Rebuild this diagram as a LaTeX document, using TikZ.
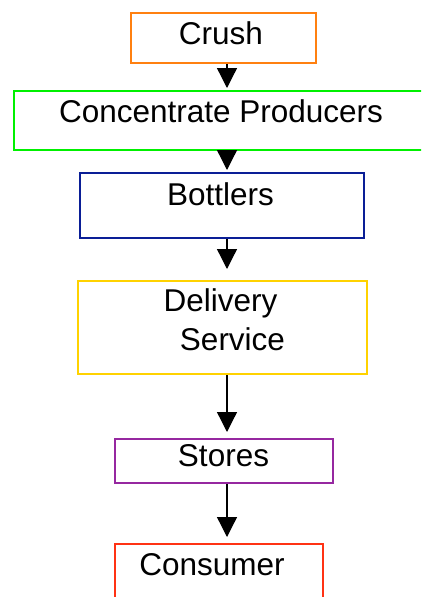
\documentclass[tikz,border=0pt]{standalone}
\usepackage{fontspec}
\setmainfont{Liberation Sans}
\usetikzlibrary{arrows.meta}
\definecolor{cOrange}{RGB}{255,128,16}
\definecolor{cGreen}{RGB}{0,240,0}
\definecolor{cBlue}{RGB}{10,30,150}
\definecolor{cYellow}{RGB}{255,210,0}
\definecolor{cPurple}{RGB}{150,40,160}
\definecolor{cRed}{RGB}{255,50,20}
\begin{document}
\begin{tikzpicture}[x=1pt,y=-1pt,
  boxed/.style={rectangle,line width=2pt,inner sep=0pt},
  lbl/.style={anchor=base,inner sep=0pt,font=\fontsize{31.5}{36}\selectfont},
  flow/.style={line width=1.3pt,-{Triangle[width=20pt,length=20pt]}}]
\useasboundingbox (0,0) rectangle (421,597);
\clip (0,0) rectangle (421,597);
\fill[white] (0,0) rectangle (421,597);
% boxes
\node[boxed,draw=cOrange,minimum width=185pt,minimum height=50pt,anchor=north west] (crush) at (130,12) {};
\node[boxed,draw=cGreen,minimum width=427pt,minimum height=59pt,anchor=north west] (conc) at (13,90) {};
\node[boxed,draw=cBlue,minimum width=284pt,minimum height=65pt,anchor=north west] (bottlers) at (79,172) {};
\node[boxed,draw=cYellow,minimum width=289pt,minimum height=93pt,anchor=north west] (delivery) at (77,280) {};
\node[boxed,draw=cPurple,minimum width=218pt,minimum height=44pt,anchor=north west] (stores) at (114,438) {};
\node[boxed,draw=cRed,minimum width=208pt,minimum height=80pt,anchor=north west] (consumer) at (114,543) {};
% labels
\node[lbl] (tcrush) at (221,44.5) {Crush};
\node[lbl] (tconc) at (221,122) {Concentrate Producers};
\node[lbl] (tbott) at (220.5,205) {Bottlers};
\node[lbl] (tdel1) at (220.5,311.5) {Delivery};
\node[lbl] (tdel2) at (232.5,350) {Service};
\node[lbl] (tstores) at (223.5,466.5) {Stores};
\node[lbl] (tcons) at (212,575) {Consumer};
% arrows
\coordinate (ax) at (227,0);
\draw[flow] (crush.south -| ax) -- ([yshift=2pt]conc.north -| ax);
\draw[flow] (conc.south -| ax) -- ([yshift=2pt]bottlers.north -| ax);
\draw[flow] (bottlers.south -| ax) -- ([yshift=11pt]delivery.north -| ax);
\draw[flow] (delivery.south -| ax) -- ([yshift=6pt]stores.north -| ax);
\draw[flow] (stores.south -| ax) -- ([yshift=6pt]consumer.north -| ax);
\end{tikzpicture}
\end{document}
